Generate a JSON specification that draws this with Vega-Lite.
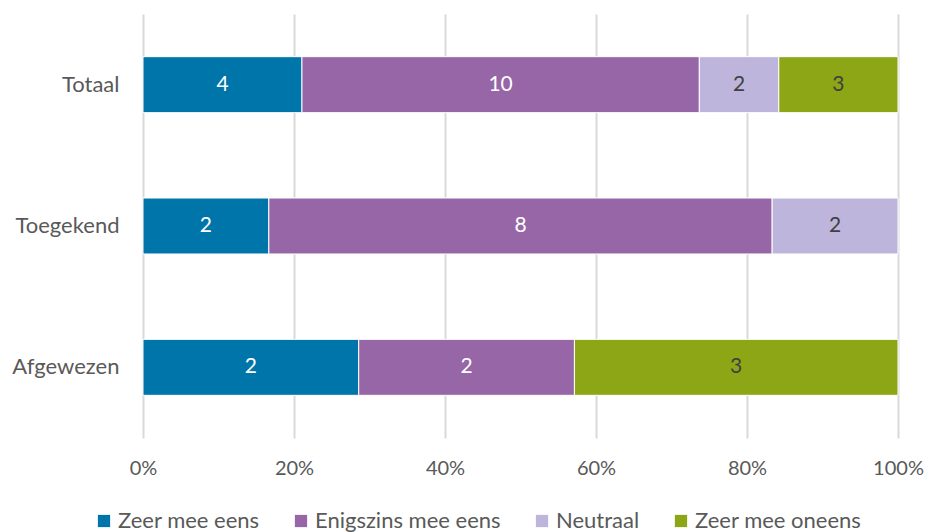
{
  "$schema": "https://vega.github.io/schema/vega-lite/v6.json",
  "width": 755,
  "height": 424,
  "autosize": {"type": "none"},
  "padding": {"left": 143, "top": 14, "right": 29, "bottom": 94},
  "background": "white",
  "config": {
    "font": "Lato",
    "view": {"stroke": null}
  },
  "data": {
    "values": [
      {"cat": "Totaal", "resp": "Zeer mee eens", "o": 1, "n": 4},
      {"cat": "Totaal", "resp": "Enigszins mee eens", "o": 2, "n": 10},
      {"cat": "Totaal", "resp": "Neutraal", "o": 3, "n": 2},
      {"cat": "Totaal", "resp": "Zeer mee oneens", "o": 4, "n": 3},
      {"cat": "Toegekend", "resp": "Zeer mee eens", "o": 1, "n": 2},
      {"cat": "Toegekend", "resp": "Enigszins mee eens", "o": 2, "n": 8},
      {"cat": "Toegekend", "resp": "Neutraal", "o": 3, "n": 2},
      {"cat": "Afgewezen", "resp": "Zeer mee eens", "o": 1, "n": 2},
      {"cat": "Afgewezen", "resp": "Enigszins mee eens", "o": 2, "n": 2},
      {"cat": "Afgewezen", "resp": "Zeer mee oneens", "o": 4, "n": 3}
    ]
  },
  "encoding": {
    "y": {
      "field": "cat",
      "type": "nominal",
      "sort": ["Totaal", "Toegekend", "Afgewezen"],
      "scale": {"paddingInner": 0.604, "paddingOuter": 0.302},
      "axis": {"title": null, "domain": false, "ticks": false, "labelPadding": 24, "labelFontSize": 22, "labelColor": "#595959", "labelFont": "Lato"}
    }
  },
  "layer": [
    {
      "mark": {"type": "bar", "stroke": "white", "strokeWidth": 1},
      "encoding": {
        "x": {
          "field": "n",
          "type": "quantitative",
          "stack": "normalize",
          "scale": {"domain": [0, 1], "nice": false},
          "axis": {"title": null, "format": ".0%", "values": [0, 0.2, 0.4, 0.6, 0.8, 1], "domain": false, "ticks": false, "grid": true, "gridColor": "#d9d9d9", "gridWidth": 2, "labelFlush": false, "labelPadding": 20, "labelFontSize": 20, "labelColor": "#595959", "labelFont": "Lato"}
        },
        "order": {"field": "o", "type": "quantitative", "sort": "ascending"},
        "color": {
          "field": "resp",
          "type": "nominal",
          "sort": ["Zeer mee eens", "Enigszins mee eens", "Neutraal", "Zeer mee oneens"],
          "scale": {"domain": ["Zeer mee eens", "Enigszins mee eens", "Neutraal", "Zeer mee oneens"], "range": ["#0075a9", "#9666a7", "#bdb5dc", "#8da616"]},
          "legend": {
            "title": null,
            "orient": "none",
            "direction": "horizontal",
            "legendX": -50,
            "legendY": 496,
            "symbolType": "square",
            "symbolSize": 150,
            "symbolStrokeWidth": 0,
            "labelFontSize": 22,
            "labelLimit": 400,
            "labelColor": "#595959",
            "labelFont": "Lato",
            "labelOffset": 3,
            "columnPadding": 30
          }
        }
      }
    },
    {
      "mark": {"type": "text", "fontSize": 21, "font": "Lato", "baseline": "middle", "align": "center"},
      "encoding": {
        "x": {"field": "n", "type": "quantitative", "stack": "normalize", "bandPosition": 0.5},
        "order": {"field": "o", "type": "quantitative", "sort": "ascending"},
        "text": {"field": "n", "type": "quantitative"},
        "color": {
          "condition": {"test": "datum.resp === 'Neutraal' || datum.resp === 'Zeer mee oneens'", "value": "#404040"},
          "value": "white"
        }
      }
    }
  ]
}
